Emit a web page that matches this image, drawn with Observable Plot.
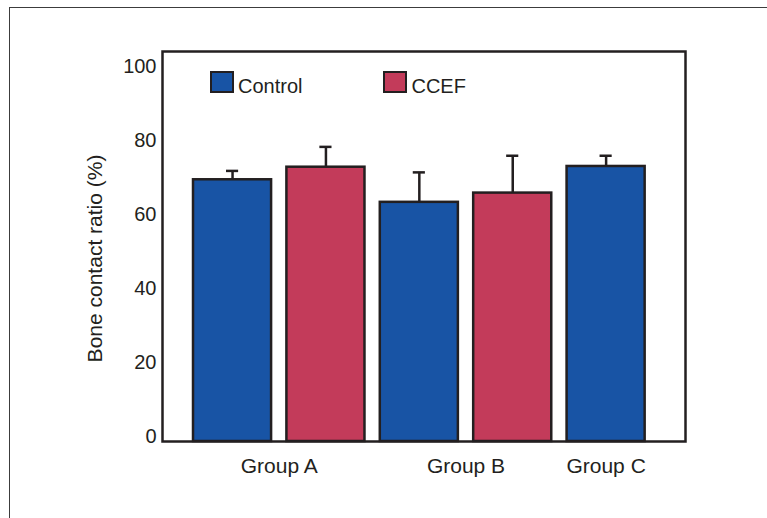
<!DOCTYPE html>
<html><head><meta charset="utf-8">
<script src="https://cdn.jsdelivr.net/npm/d3@7"></script>
<script src="https://cdn.jsdelivr.net/npm/@observablehq/plot@0.6"></script>
<style>
html,body{margin:0;padding:0;background:#fff;overflow:hidden}
#wrap{position:relative;width:767px;height:518px;font-family:"Liberation Sans",Arial,Helvetica,sans-serif;overflow:hidden}
#outer{position:absolute;left:9px;top:7px;width:800px;height:600px;border-top:1.5px solid #3c3c3c;border-left:1.5px solid #3c3c3c;pointer-events:none}
#legend{position:absolute;left:210px;top:71px;display:flex;gap:81px}
.item{display:flex;align-items:flex-start}
.sw{width:24px;height:22px;box-sizing:border-box;border:2.5px solid #231f20}
.lab{font-size:20px;line-height:22px;margin-left:4px;position:relative;top:4px;color:#231f20}
</style></head><body><div id="wrap"><div id="outer"></div></div>
<script>
const groups = ["Group A","Group A","Group B","Group B","Group C"];
const series = ["Control","CCEF","Control","CCEF","Control"];
const values = [69.5,72.9,63.4,65.9,73.1];
const errors = [2.4,5.5,8.1,10.1,2.9];
const groupLabels = ["Group A","Group B","Group C"];
const seriesNames = ["Control","CCEF"];
const seriesColors = ["#1854a5","#c33b5a"];
const yTicks = [0,20,40,60,80,100];
const yLabel = "Bone contact ratio (%)";
const yDomain = [-1.3, 104.2];
const xDomain = [-0.75, 4.85];
const halfBar = 0.418;
const capHalf = 0.065;

const data = values.map((v,i)=>({i, group: groups[i], series: series[i], value: v, err: errors[i]}));
const centers = groupLabels.map(g => d3.mean(data.filter(d=>d.group===g), d=>d.i));
const ink = "#231f20";

const plot = Plot.plot({
  width: 767, height: 518,
  marginLeft:162, marginRight:82, marginTop:51, marginBottom:77,
  style: {fontFamily: '"Liberation Sans",Arial,Helvetica,sans-serif', fontSize: "20px", color: ink, background: "transparent"},
  x: {domain: xDomain},
  y: {domain: yDomain},
  color: {domain: seriesNames, range: seriesColors},
  marks: [
    Plot.rect(data, {x1: d=>d.i-halfBar, x2: d=>d.i+halfBar, y1: ()=>yDomain[0], y2: "value", fill: "series", stroke: ink, strokeWidth: 2.5}),
    Plot.ruleX(data, {x: "i", y1: "value", y2: d=>d.value+d.err, stroke: ink, strokeWidth: 2.5}),
    Plot.ruleY(data, {y: d=>d.value+d.err, x1: d=>d.i-capHalf, x2: d=>d.i+capHalf, stroke: ink, strokeWidth: 2.5}),
    Plot.axisY({ticks: yTicks, tickSize: 0, tickPadding: 6, fontSize: 20, label: null}),
    Plot.axisX({ticks: centers, tickFormat: d => groupLabels[centers.indexOf(d)], tickSize: 0, tickPadding: 17, fontSize: 21, label: null}),
    Plot.text([yLabel], {frameAnchor: "left", textAnchor: "middle", rotate: -90, dx: -67, dy: 12, fontSize: 21, fill: ink}),
    Plot.frame({stroke: ink, strokeWidth: 2.5})
  ]
});
const wrap = document.getElementById("wrap");
wrap.insertBefore(plot, wrap.firstChild);

const legend = document.createElement("div");
legend.id = "legend";
seriesNames.forEach((n,k)=>{
  const item = document.createElement("div"); item.className = "item";
  const sw = document.createElement("div"); sw.className = "sw"; sw.style.background = seriesColors[k];
  const lab = document.createElement("span"); lab.className = "lab"; lab.textContent = n;
  item.appendChild(sw); item.appendChild(lab); legend.appendChild(item);
});
wrap.appendChild(legend);
</script></body></html>
